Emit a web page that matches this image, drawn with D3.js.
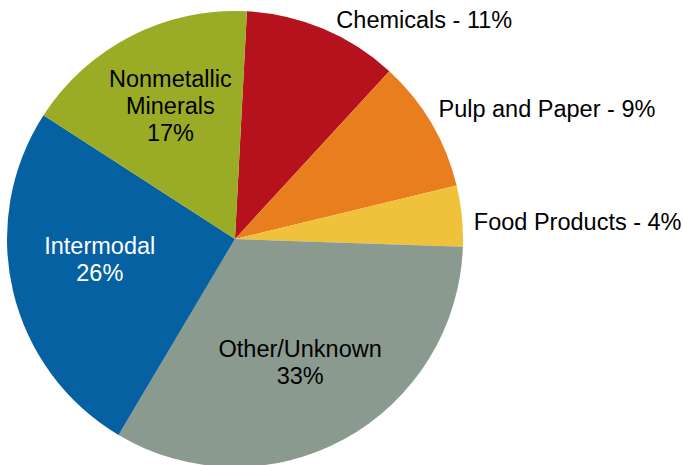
<!DOCTYPE html>
<html>
<head>
<meta charset="utf-8">
<script src="https://cdn.jsdelivr.net/npm/d3@7"></script>
<style>
  body { margin: 0; background: #fff; }
  svg text { font-family: "Liberation Sans", Arial, sans-serif; font-size: 23.5px; }
</style>
</head>
<body>
<svg id="chart" width="684" height="465"></svg>
<script>
// slices, clockwise from just past 12 o'clock (shares)
var categories = ["Chemicals", "Pulp and Paper", "Food Products", "Other/Unknown", "Intermodal", "Nonmetallic Minerals"];
var shares = [11.0, 9.4, 4.3, 33.0, 25.6, 16.7];
var colors = ["#b5121d", "#e87e1e", "#f0c13b", "#8b9a8f", "#0561a1", "#9aac25"];
// label text lines
var labelLines = [
    ["Chemicals - 11%"],
    ["Pulp and Paper - 9%"],
    ["Food Products - 4%"],
    ["Other/Unknown", "33%"],
    ["Intermodal", "26%"],
    ["Nonmetallic", "Minerals", "17%"]
];
var outside = [true, true, true, false, false, false];
var textColor = ["#000", "#000", "#000", "#000", "#fff", "#000"];

var cx = 235, cy = 239, radius = 228;
var lineH = 27;
// small nudges so labels sit where the original put them
var nudge = [[13, -9], [7, -15], [12, 6], [-3, -1], [3, -12], [0, -7]];

var svg = d3.select("#chart");
var g = svg.append("g").attr("transform", "translate(" + cx + "," + cy + ")");

var startAngle = 3 * Math.PI / 180;
var pie = d3.pie().sort(null)
    .startAngle(startAngle)
    .endAngle(startAngle + 2 * Math.PI);
var arcs = pie(shares);

var arc = d3.arc().innerRadius(0).outerRadius(radius);
var innerLabelArc = d3.arc().innerRadius(142).outerRadius(142);
var outerLabelArc = d3.arc().innerRadius(radius).outerRadius(radius);

g.selectAll("path")
    .data(arcs)
    .enter().append("path")
    .attr("d", arc)
    .attr("fill", function(d, i) { return colors[i]; });

var labels = g.selectAll("text.label")
    .data(arcs)
    .enter().append("text")
    .attr("class", "label")
    .attr("fill", function(d, i) { return textColor[i]; })
    .attr("text-anchor", function(d, i) { return outside[i] ? "start" : "middle"; })
    .attr("transform", function(d, i) {
        var p = outside[i] ? outerLabelArc.centroid(d) : innerLabelArc.centroid(d);
        return "translate(" + (p[0] + nudge[i][0]) + "," + (p[1] + nudge[i][1]) + ")";
    });

labels.selectAll("tspan")
    .data(function(d, i) {
        var lines = labelLines[i];
        return lines.map(function(t, k) { return { text: t, k: k, n: lines.length }; });
    })
    .enter().append("tspan")
    .attr("x", 0)
    .attr("y", function(t) { return (t.k - (t.n - 1) / 2) * lineH; })
    .attr("dy", "0.35em")
    .text(function(t) { return t.text; });
</script>
</body>
</html>
